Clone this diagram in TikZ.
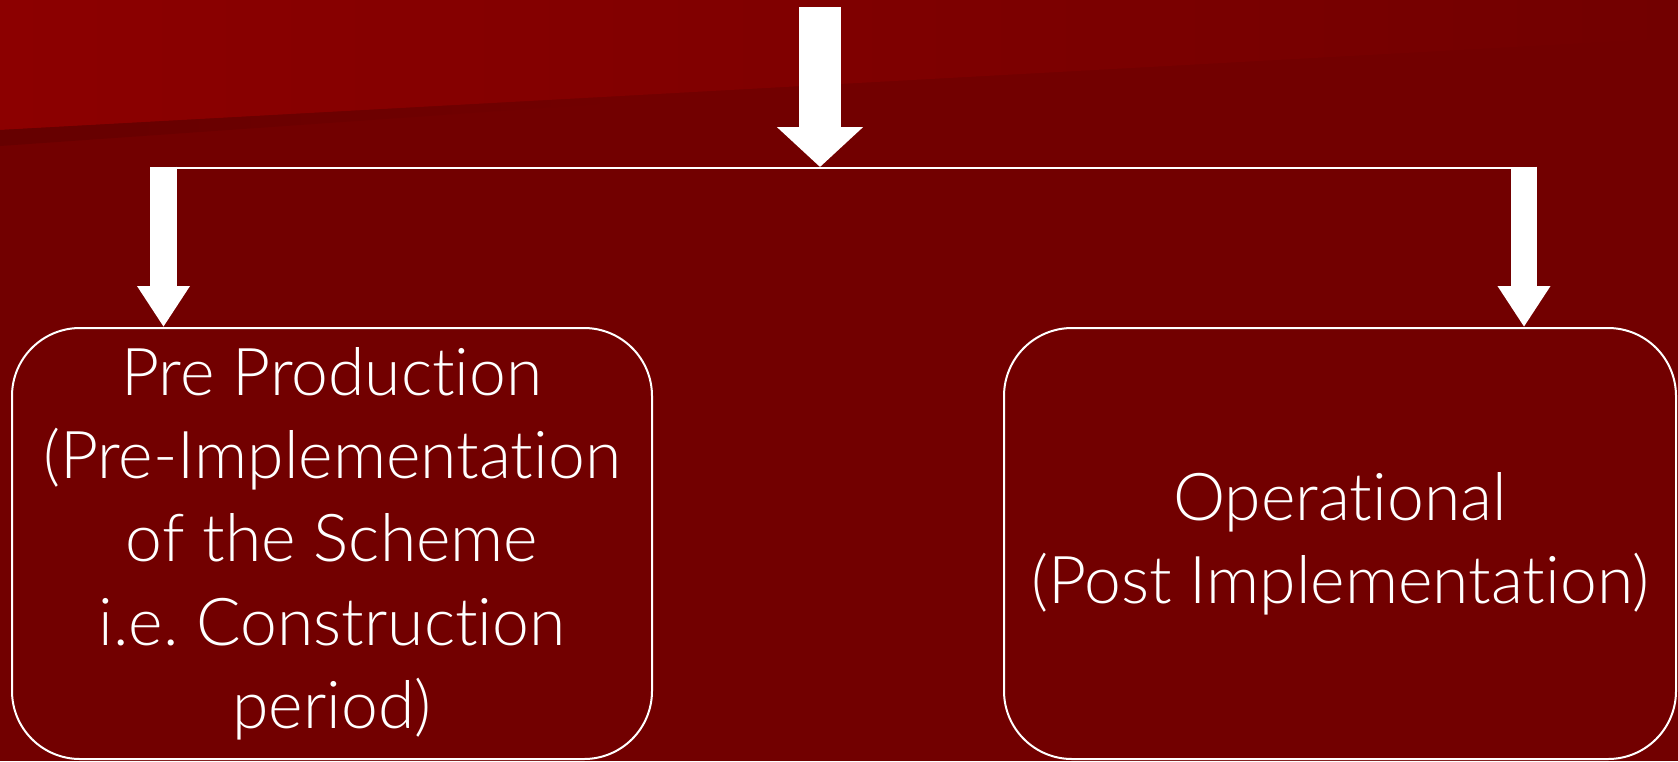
\documentclass[tikz,border=0pt]{standalone}
\usepackage{fontspec}
\IfFontExistsTF{Lato Light}{\setmainfont{Lato Light}[Ligatures={NoCommon}]}{\IfFontExistsTF{Open Sans Light}{\setmainfont{Open Sans Light}}{\setmainfont{Lato}[Ligatures={NoCommon}]}}
\usetikzlibrary{arrows.meta,fadings}
\definecolor{bgdark}{RGB}{114,0,0}
\definecolor{bgtop}{RGB}{140,0,0}
\definecolor{shadowc}{RGB}{102,0,0}
\frenchspacing
\tikzset{
  box/.style={draw=white, line width=2pt, rounded corners=68pt, minimum width=640pt,
    minimum height=431pt, align=center, text=white, inner sep=0pt,
    font=\fontsize{66}{83.3}\selectfont},
  bigarrow/.style={white, line width=42pt, -{Triangle[width=84pt,length=40pt]}},
  branch/.style={white, line width=26.5pt, -{Triangle[width=50pt,length=41pt]}},
  splitline/.style={white, line width=2pt}
}
\begin{document}
\begin{tikzpicture}[x=1pt,y=-1pt]
\useasboundingbox (0,0) rectangle (1678,761);
\fill[bgdark] (0,0) rectangle (1678,761);
\shade[left color=bgtop, right color=bgdark] (0,0) -- (1678,0) -- (1678,38) -- (0,130) -- cycle;
\fill[shadowc, path fading=east] (0,130) -- (600,97) -- (600,104) -- (0,146) -- cycle;

\node[box] (pre) at (332,543.5) {Pre Production\\(Pre-Implementation\\of the Scheme\\i.e. Construction\\period)};
\node[box, minimum width=672pt] (op) at (1340,543.5) {Operational\\(Post Implementation)};

\coordinate (src) at (820,7);
\coordinate (split) at (820,167);
\coordinate (lb) at (163.5,166.5);
\coordinate (rb) at (1524,166.5);
\coordinate (lend) at (150,167.5);
\coordinate (rend) at (1537,167.5);

\draw[bigarrow] (src) -- (split);
\draw[splitline] (lend) -- (rend);
\draw[branch] (lb) -- (lb |- pre.north);
\draw[branch] (rb) -- (rb |- op.north);
\end{tikzpicture}
\end{document}
